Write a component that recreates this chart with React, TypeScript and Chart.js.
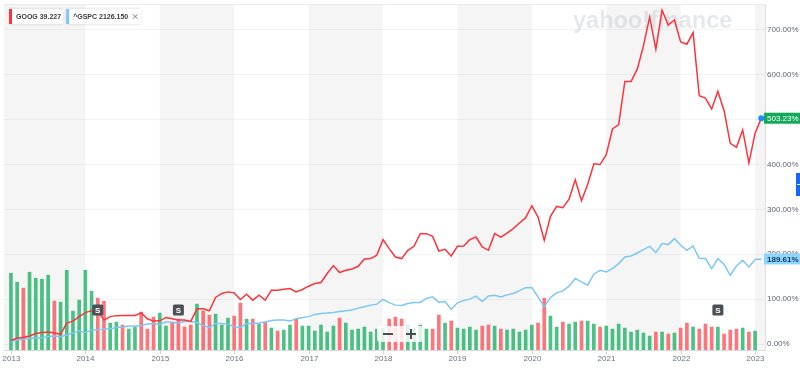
import React, { useEffect, useRef } from "react";
import { Chart, registerables } from "chart.js";

Chart.register(...registerables);

// ---- data ----
const yearLabels = ["2013", "2014", "2015", "2016", "2017", "2018", "2019", "2020", "2021", "2022", "2023"];
const yearStartMonth = [0, 12, 24, 36, 48, 60, 72, 84, 96, 108, 120];
const seriesNames = ["GOOG", "^GSPC"];
const seriesRefPrice = ["39.227", "2126.150"];

// % change, monthly, month index 0 = Jan 2013
const googPct = [
  8.0, 13.3, 14.4, 17.8, 23.3, 25.6, 26.7, 24.4, 21.6, 46.7,
  51.1, 61.1, 70.0, 74.4, 73.3, 53.3, 61.1, 63.3, 63.8, 63.8,
  63.8, 69.6, 56.2, 51.1, 51.8, 59.3, 56.2, 53.3, 53.3, 50.4,
  78.4, 78.4, 74.0, 103.8, 112.7, 116.2, 114.0, 99.3, 111.1, 97.8,
  108.9, 97.8, 120.0, 120.0, 122.2, 123.8, 116.2, 121.6, 128.9, 134.9,
  137.1, 157.1, 174.9, 159.3, 164.4, 167.3, 173.3, 189.6, 190.4, 197.8,
  232.7, 212.7, 194.0, 190.4, 208.9, 217.8, 246.0, 246.0, 240.0, 207.3,
  211.1, 196.2, 217.8, 218.4, 232.7, 238.4, 216.2, 208.9, 246.0, 238.4,
  247.3, 257.1, 269.6, 281.6, 308.2, 282.9, 231.1, 284.4, 306.7, 303.8,
  322.9, 366.0, 319.3, 355.6, 401.6, 400.0, 422.2, 479.3, 488.9, 585.1,
  585.1, 612.7, 664.4, 728.9, 657.1, 743.8, 711.1, 722.2, 673.3, 668.2,
  694.0, 553.3, 548.2, 523.8, 562.9, 520.0, 447.3, 438.4, 477.1, 403.8,
  469.6, 503.23,
];

const gspcPct = [
  5.6, 8.9, 11.1, 12.2, 14.0, 14.0, 16.7, 17.8, 16.2, 20.0,
  24.4, 28.9, 25.6, 31.1, 31.1, 33.3, 33.3, 36.7, 37.8, 40.0,
  40.0, 41.1, 44.4, 46.0, 43.3, 49.6, 47.8, 47.3, 50.0, 50.4,
  47.8, 41.1, 36.7, 46.0, 46.0, 44.4, 38.4, 37.1, 45.6, 46.0,
  46.7, 48.9, 52.2, 53.3, 53.3, 51.1, 56.2, 58.9, 61.1, 66.0,
  67.8, 68.9, 70.4, 72.7, 74.2, 75.6, 80.0, 83.3, 86.7, 88.9,
  99.3, 92.2, 86.7, 86.0, 90.4, 92.7, 92.7, 101.6, 105.1, 93.3,
  94.9, 77.1, 91.8, 96.7, 100.0, 106.7, 94.9, 107.3, 108.9, 105.1,
  109.6, 112.7, 118.9, 125.6, 126.0, 105.1, 82.9, 103.8, 114.0, 118.4,
  128.9, 146.0, 138.4, 131.1, 155.6, 164.4, 160.7, 168.2, 179.3, 194.0,
  196.2, 202.9, 210.4, 217.8, 203.8, 223.8, 221.6, 234.9, 220.0, 208.9,
  218.4, 190.4, 190.4, 168.2, 190.4, 177.8, 153.3, 174.0, 186.7, 171.8,
  188.2, 189.61,
];

// relative monthly volume
const volume = [
  77, 68, 62, 78, 72, 71, 75, 49, 48, 80,
  39, 50, 80, 59, 52, 49, 27, 28, 25, 21,
  23, 38, 21, 33, 37, 24, 28, 31, 23, 25,
  46, 39, 35, 36, 25, 32, 34, 47, 31, 31,
  26, 28, 22, 19, 20, 25, 31, 24, 24, 19,
  25, 18, 24, 32, 27, 20, 21, 23, 18, 21,
  22, 31, 33, 31, 24, 22, 25, 21, 21, 35,
  27, 29, 22, 21, 23, 20, 24, 25, 24, 21,
  20, 21, 18, 20, 25, 27, 52, 34, 23, 28,
  26, 28, 29, 29, 26, 23, 24, 21, 26, 22,
  18, 20, 17, 14, 18, 18, 16, 17, 22, 27,
  23, 21, 26, 23, 23, 16, 20, 21, 22, 18,
  19,
];
// 1 = up month (green), 0 = down month (red)
const volumeUp = [
  1, 1, 0, 1, 1, 1, 1, 0, 1, 1,
  1, 1, 1, 1, 0, 0, 1, 1, 0, 1,
  1, 0, 0, 0, 1, 1, 0, 0, 0, 0,
  1, 0, 0, 1, 1, 1, 0, 0, 1, 0,
  1, 0, 1, 0, 1, 1, 0, 1, 1, 1,
  1, 1, 1, 0, 1, 1, 1, 1, 1, 1,
  1, 0, 0, 0, 1, 1, 1, 1, 0, 0,
  1, 0, 1, 1, 1, 1, 0, 0, 1, 0,
  1, 1, 1, 1, 1, 0, 0, 1, 1, 0,
  1, 1, 0, 1, 1, 0, 1, 1, 1, 1,
  1, 1, 1, 1, 0, 1, 0, 1, 0, 0,
  1, 0, 0, 0, 1, 0, 0, 0, 1, 0,
  1,
];
const splitMonths = [14, 27, 114];

// ---- styles ----
const FONT = '"Liberation Sans", Arial, Helvetica, sans-serif';
const RED = "#ff333a";
const BLUE = "#7cc7f5";
const VOL_UP = "rgba(0,168,84,0.7)";
const VOL_DOWN = "rgba(255,51,58,0.68)";

const decor = {
  id: "decor",
  beforeDraw(chart: any) {
    const { ctx, chartArea: a, scales } = chart;
    const x = scales.x;
    ctx.save();
    ctx.fillStyle = "#ffffff";
    ctx.fillRect(0, 0, chart.width, chart.height);
    ctx.fillStyle = "#f5f5f5";
    yearStartMonth.forEach((m: number, k: number) => {
      if (k % 2) return;
      const x0 = k === 0 ? a.left : Math.max(a.left, x.getPixelForValue(m));
      const x1 = Math.min(a.right, x.getPixelForValue(m + 12));
      if (x1 > x0) ctx.fillRect(x0, a.top, x1 - x0, a.bottom - a.top);
    });
    ctx.strokeStyle = "#ebebeb";
    ctx.lineWidth = 1;
    ctx.beginPath();
    ctx.moveTo(a.left, a.top + 0.5);
    ctx.lineTo(a.right, a.top + 0.5);
    ctx.stroke();
    ctx.restore();
  },
  beforeDatasetsDraw(chart: any) {
    const { ctx } = chart;
    ctx.save();
    ctx.font = `bold 23.5px ${FONT}`;
    ctx.fillStyle = "rgba(175,184,198,0.33)";
    ctx.textAlign = "left";
    ctx.textBaseline = "alphabetic";
    ctx.fillText("yahoo!finance", 573, 27.5);
    ctx.restore();
  },
  afterDatasetsDraw(chart: any) {
    const { ctx, chartArea: a, scales } = chart;
    const x = scales.x;
    ctx.save();
    // split markers
    splitMonths.forEach((m: number) => {
      const cx = x.getPixelForValue(m);
      const cy = a.bottom - 40;
      ctx.fillStyle = "#4b5057";
      ctx.beginPath();
      ctx.roundRect(cx - 5.5, cy - 5.5, 11, 11, 1.5);
      ctx.fill();
      ctx.fillStyle = "#ffffff";
      ctx.font = `bold 8px ${FONT}`;
      ctx.textAlign = "center";
      ctx.textBaseline = "middle";
      ctx.fillText("S", cx, cy + 0.5);
    });
    // zoom control
    const zx = chart.width / 2;
    const zy = a.bottom - 16;
    ctx.fillStyle = "rgba(255,255,255,0.82)";
    ctx.beginPath();
    ctx.roundRect(zx - 23, zy - 8, 46, 16, 3);
    ctx.fill();
    ctx.strokeStyle = "#474d54";
    ctx.lineWidth = 2;
    ctx.beginPath();
    ctx.moveTo(zx - 17, zy);
    ctx.lineTo(zx - 7, zy);
    ctx.moveTo(zx + 6, zy);
    ctx.lineTo(zx + 16, zy);
    ctx.moveTo(zx + 11, zy - 5);
    ctx.lineTo(zx + 11, zy + 5);
    ctx.stroke();
    ctx.restore();
  },
  afterDraw(chart: any) {
    const { ctx, chartArea: a, scales } = chart;
    const x = scales.x;
    const y = scales.y;
    ctx.save();
    // x axis
    ctx.strokeStyle = "#dadada";
    ctx.lineWidth = 1;
    ctx.beginPath();
    ctx.moveTo(a.left, a.bottom + 0.5);
    ctx.lineTo(a.right, a.bottom + 0.5);
    ctx.stroke();
    ctx.font = `8px ${FONT}`;
    ctx.fillStyle = "#6c747c";
    ctx.textAlign = "center";
    ctx.textBaseline = "middle";
    yearStartMonth.forEach((m: number, k: number) => {
      const px = Math.round(x.getPixelForValue(m)) + 0.5;
      ctx.strokeStyle = "#cfcfcf";
      ctx.beginPath();
      ctx.moveTo(px, a.bottom);
      ctx.lineTo(px, a.bottom + 4);
      ctx.stroke();
      ctx.fillText(yearLabels[k], px, a.bottom + 8.5);
    });

    // legend chips
    ctx.font = `bold 7px ${FONT}`;
    ctx.textAlign = "left";
    ctx.textBaseline = "middle";
    let bx = 9;
    const by = 9;
    const bh = 15;
    const cols = [RED, BLUE];
    seriesNames.forEach((n: string, i: number) => {
      const label = `${n} ${seriesRefPrice[i]}`;
      const tw = ctx.measureText(label).width;
      const extra = i === 1 ? 11 : 0;
      const bw = 7 + tw + 2 + extra;
      ctx.save();
      ctx.shadowColor = "rgba(0,0,0,0.16)";
      ctx.shadowBlur = 3;
      ctx.fillStyle = "#ffffff";
      ctx.fillRect(bx, by, bw, bh);
      ctx.restore();
      ctx.fillStyle = cols[i];
      ctx.fillRect(bx, by, 3, bh);
      ctx.fillStyle = "#3c3c3c";
      ctx.fillText(label, bx + 7, by + bh / 2 + 0.5);
      if (i === 1) {
        const cx = bx + 7 + tw + 7;
        const cy = by + bh / 2;
        ctx.strokeStyle = "#777";
        ctx.lineWidth = 1;
        ctx.beginPath();
        ctx.moveTo(cx - 2.2, cy - 2.2);
        ctx.lineTo(cx + 2.2, cy + 2.2);
        ctx.moveTo(cx + 2.2, cy - 2.2);
        ctx.lineTo(cx - 2.2, cy + 2.2);
        ctx.stroke();
      }
      bx += bw + 3;
    });

    // value tags
    const tag = (val: number, bg: string, fg: string, bold: boolean) => {
      const py = y.getPixelForValue(val);
      ctx.fillStyle = bg;
      ctx.fillRect(a.right - 1, py - 5.5, chart.width - a.right + 1, 11);
      ctx.fillStyle = fg;
      ctx.font = `${bold ? "bold " : ""}8px ${FONT}`;
      ctx.textAlign = "left";
      ctx.textBaseline = "middle";
      ctx.fillText(`${val.toFixed(2)}%`, a.right + 2, py + 0.5);
    };
    tag(gspcPct[gspcPct.length - 1], "#8fd4fd", "#123a5c", true);
    tag(googPct[googPct.length - 1], "#14a95a", "#ffffff", false);

    // side tab
    ctx.fillStyle = "#1468f5";
    ctx.fillRect(796, 173, 4, 23);
    ctx.strokeStyle = "#ffffff";
    ctx.lineWidth = 1;
    ctx.beginPath();
    ctx.moveTo(797, 184.5);
    ctx.lineTo(800, 184.5);
    ctx.stroke();
    ctx.restore();
  },
};

export default function App() {
  const ref = useRef<HTMLCanvasElement | null>(null);

  useEffect(() => {
    const canvas = ref.current;
    if (!canvas) return;
    const lastIdx = googPct.length - 1;
    const chart = new Chart(canvas, {
      type: "line",
      data: {
        datasets: [
          {
            type: "line",
            label: seriesNames[0],
            data: googPct.map((v, i) => ({ x: i, y: v })),
            borderColor: RED,
            borderWidth: 1.5,
            tension: 0,
            pointRadius: (c: any) => (c.dataIndex === lastIdx ? 3 : 0),
            pointBackgroundColor: "#1a8cff",
            pointBorderWidth: 0,
            yAxisID: "y",
            order: 1,
          },
          {
            type: "line",
            label: seriesNames[1],
            data: gspcPct.map((v, i) => ({ x: i, y: v })),
            borderColor: BLUE,
            borderWidth: 1.5,
            tension: 0,
            pointRadius: 0,
            yAxisID: "y",
            order: 2,
          },
          {
            type: "bar",
            label: "Volume",
            data: volume.map((v, i) => ({ x: i, y: v })),
            backgroundColor: volumeUp.map((u) => (u ? VOL_UP : VOL_DOWN)),
            barThickness: 3,
            yAxisID: "vol",
            order: 3,
          },
        ],
      } as any,
      options: {
        animation: false,
        responsive: false,
        devicePixelRatio: 1,
        layout: { padding: { top: 3, bottom: 19, left: 0, right: 0 } },
        plugins: { legend: { display: false }, tooltip: { enabled: false } },
        scales: {
          x: { type: "linear", min: -1.12, max: 121.6, display: false, offset: false },
          y: {
            position: "right",
            min: -13.3,
            max: 757.8,
            ticks: {
              stepSize: 100,
              includeBounds: false,
              padding: 2,
              color: "#5f6670",
              font: { size: 8, family: FONT },
              callback: (v: any) => `${Number(v).toFixed(2)}%`,
            },
            grid: { color: "rgba(0,0,0,0.045)", drawTicks: false },
            border: { display: true, color: "#e0e0e0" },
            afterFit: (s: any) => {
              s.width = 35;
              s.paddingTop = 0;
              s.paddingBottom = 0;
            },
          },
          vol: { display: false, min: 0, max: 347 },
        },
      } as any,
      plugins: [decor as any],
    });
    return () => chart.destroy();
  }, []);

  return (
    <div style={{ position: "absolute", left: 0, top: 0, width: 800, height: 369 }}>
      <canvas ref={ref} width={800} height={369} style={{ display: "block" }} />
    </div>
  );
}
